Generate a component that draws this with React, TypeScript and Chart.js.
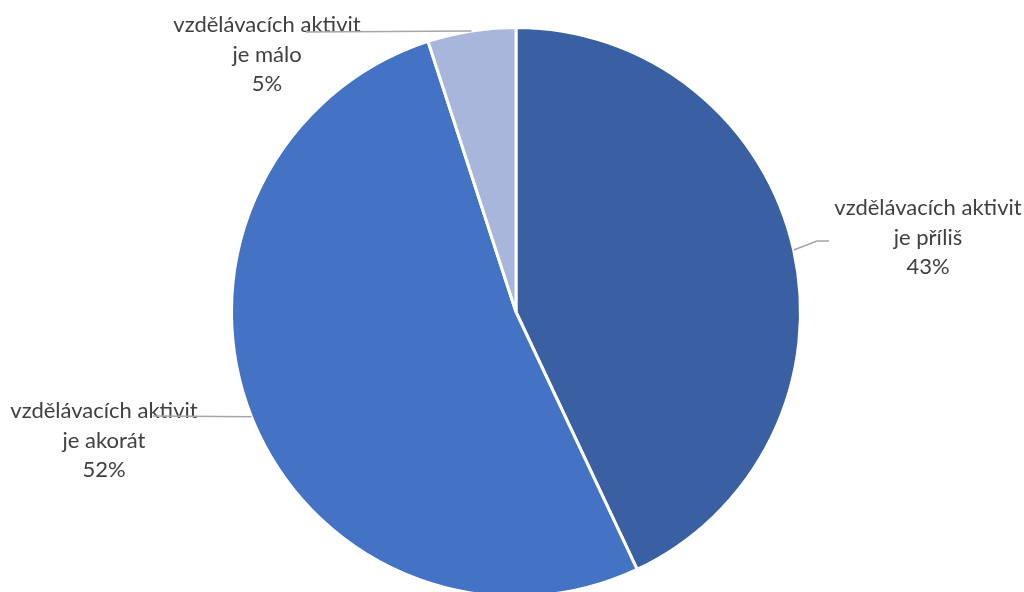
import React, { useEffect, useRef } from "react";
import { Chart, registerables } from "chart.js";

Chart.register(...registerables);

const categories = [
  "vzdělávacích aktivit\nje příliš",
  "vzdělávacích aktivit\nje akorát",
  "vzdělávacích aktivit\nje málo",
];
const values = [43, 52, 5];
const percentLabels = ["43%", "52%", "5%"];
const sliceColors = ["#3A5FA2", "#4472C4", "#A9B6DC"];

// label text block centers (x) and first-line center (y), leader line ends
const labelLayout = [
  { cx: 928, y0: 208, elbow: [817, 241], end: [829, 241] },
  { cx: 104, y0: 411, elbow: null, end: [153, 416] },
  { cx: 267, y0: 25, elbow: null, end: [306, 32] },
];

const FONT = "22px Lato";
const LINE_H = 29.5;

const labelPlugin = {
  id: "pieLabels",
  afterDatasetsDraw(chart: any) {
    const ctx = chart.ctx;
    const meta = chart.getDatasetMeta(0);
    ctx.save();
    meta.data.forEach((arc: any, i: number) => {
      const p = arc.getProps(["x", "y", "startAngle", "endAngle", "outerRadius"], true);
      const mid = (p.startAngle + p.endAngle) / 2;
      const ax = p.x + Math.cos(mid) * p.outerRadius;
      const ay = p.y + Math.sin(mid) * p.outerRadius;
      const L = labelLayout[i];
      const lines = categories[i].split("\n").concat([percentLabels[i]]);
      ctx.fillStyle = "#404040";
      ctx.font = FONT;
      ctx.textAlign = "center";
      ctx.textBaseline = "middle";
      lines.forEach((t, k) => ctx.fillText(t, L.cx, L.y0 + k * LINE_H));
      ctx.strokeStyle = "#A6A6A6";
      ctx.lineWidth = 1.5;
      ctx.beginPath();
      ctx.moveTo(ax, ay);
      if (L.elbow) ctx.lineTo(L.elbow[0], L.elbow[1]);
      ctx.lineTo(L.end[0], L.end[1]);
      ctx.stroke();
    });
    ctx.restore();
  },
};

export default function App() {
  const ref = useRef<HTMLCanvasElement>(null);
  useEffect(() => {
    if (!ref.current) return;
    const chart = new Chart(ref.current, {
      type: "pie",
      data: {
        labels: categories,
        datasets: [
          {
            data: values,
            backgroundColor: sliceColors,
            borderColor: "#FFFFFF",
            borderWidth: 3,
          },
        ],
      },
      options: {
        responsive: false,
        animation: false,
        layout: { padding: { top: 26, bottom: 22, left: 230, right: 222 } },
        plugins: { legend: { display: false }, tooltip: { enabled: false } },
      },
      plugins: [labelPlugin],
    });
    return () => chart.destroy();
  }, []);
  return (
    <div
      style={{
        position: "fixed",
        left: 0,
        top: 0,
        width: 1024,
        height: 592,
        overflow: "hidden",
        background: "#fff",
      }}
    >
      <canvas ref={ref} width={1024} height={620} style={{ display: "block" }} />
    </div>
  );
}
